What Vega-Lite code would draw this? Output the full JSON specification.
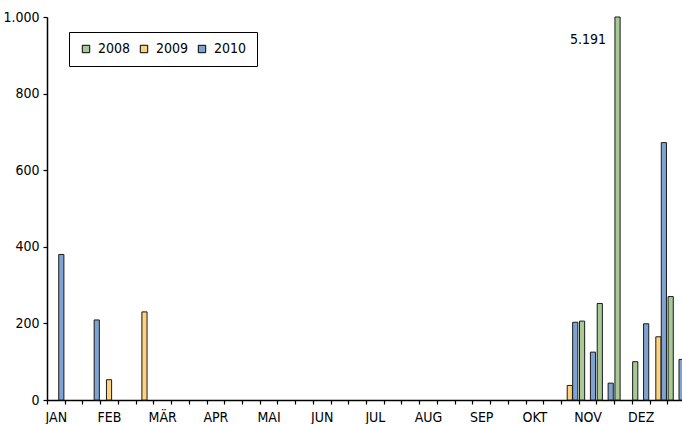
{
  "$schema": "https://vega.github.io/schema/vega-lite/v6.json",
  "width": 635,
  "height": 383,
  "autosize": {"type": "none"},
  "padding": {"left": 47, "top": 17, "right": 0, "bottom": 24},
  "config": {
    "view": {"stroke": null},
    "font": "DejaVu Sans Condensed, sans-serif",
    "axis": {"labelFont": "DejaVu Sans Condensed, sans-serif", "labelFontSize": 14, "labelColor": "#000", "domainColor": "#000", "tickColor": "#000", "domainWidth": 1.5, "tickWidth": 1.2, "grid": false, "title": null}
  },
  "data": {
    "values": [
      {"d": 0, "year": "2010", "value": 380},
      {"d": 2, "year": "2010", "value": 209},
      {"d": 3, "year": "2009", "value": 53},
      {"d": 5, "year": "2009", "value": 230},
      {"d": 29, "year": "2009", "value": 38},
      {"d": 29, "year": "2010", "value": 203},
      {"d": 30, "year": "2008", "value": 206},
      {"d": 30, "year": "2010", "value": 125},
      {"d": 31, "year": "2008", "value": 252},
      {"d": 31, "year": "2010", "value": 44},
      {"d": 32, "year": "2008", "value": 5191},
      {"d": 33, "year": "2008", "value": 100},
      {"d": 33, "year": "2010", "value": 199},
      {"d": 34, "year": "2009", "value": 165},
      {"d": 34, "year": "2010", "value": 672},
      {"d": 35, "year": "2008", "value": 270},
      {"d": 35, "year": "2010", "value": 106}
    ]
  },
  "encoding": {
    "x": {
      "field": "d",
      "type": "ordinal",
      "scale": {"domain": [0,1,2,3,4,5,6,7,8,9,10,11,12,13,14,15,16,17,18,19,20,21,22,23,24,25,26,27,28,29,30,31,32,33,34,35], "range": [0, 638], "paddingInner": 0, "paddingOuter": 0},
      "axis": {
        "labelAngle": 0,
        "tickBand": "extent",
        "tickSize": 4,
        "labelPadding": 6,
        "labelExpr": "datum.value % 3 == 0 ? ['JAN','FEB','MÄR','APR','MAI','JUN','JUL','AUG','SEP','OKT','NOV','DEZ'][datum.value / 3] : ''"
      }
    }
  },
  "layer": [
    {
      "mark": {"type": "bar", "stroke": "#1a1a1a", "strokeWidth": 1},
      "encoding": {
        "xOffset": {"field": "year", "type": "nominal", "scale": {"domain": ["2008", "2009", "2010"], "paddingInner": 0.05, "paddingOuter": 0.15}},
        "y": {
          "field": "value",
          "type": "quantitative",
          "scale": {"domain": [0, 1000], "clamp": true, "nice": false},
          "axis": {"values": [0, 200, 400, 600, 800, 1000], "tickSize": 4, "labelPadding": 4, "labelExpr": "replace(format(datum.value, ','), ',', '.')"}
        },
        "color": {
          "field": "year",
          "type": "nominal",
          "scale": {"domain": ["2008", "2009", "2010"], "range": ["#a6c996", "#fdd380", "#7fa3d1"]},
          "legend": {
            "title": null,
            "orient": "none",
            "legendX": 22,
            "legendY": 15,
            "direction": "horizontal",
            "columns": 3,
            "symbolType": "square",
            "symbolSize": 55,
            "symbolStrokeColor": "#000",
            "symbolStrokeWidth": 1,
            "labelFontSize": 14,
            "labelColor": "#000",
            "labelFont": "DejaVu Sans Condensed, sans-serif",
            "labelOffset": 5,
            "columnPadding": 6,
            "padding": 10,
            "strokeColor": "#000"
          }
        }
      }
    },
    {
      "transform": [
        {"filter": "datum.value > 1000"},
        {"calculate": "replace(format(datum.value, ','), ',', '.')", "as": "label"}
      ],
      "mark": {"type": "text", "align": "right", "baseline": "middle", "dx": -17, "fontSize": 14, "color": "#000"},
      "encoding": {
        "y": {"datum": 940, "type": "quantitative"},
        "text": {"field": "label", "type": "nominal"}
      }
    }
  ]
}
